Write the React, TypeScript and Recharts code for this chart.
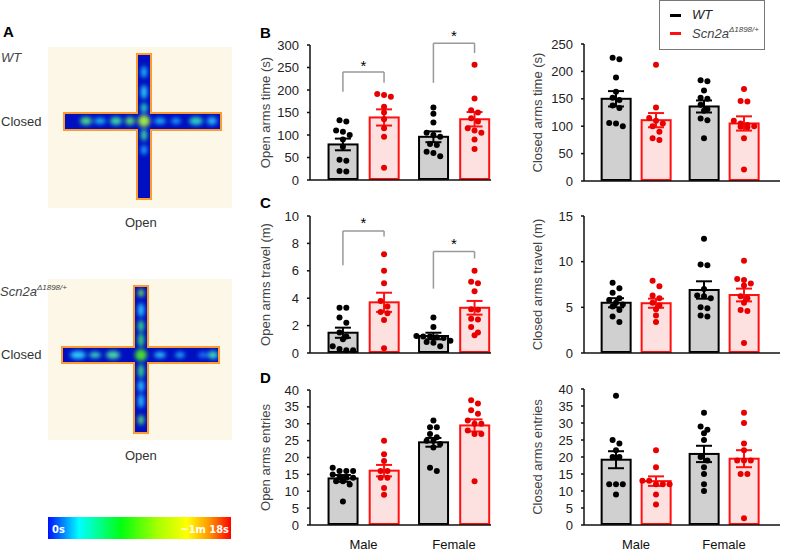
import React from "react";
import { Bar, Cell, ComposedChart, ErrorBar, ReferenceDot, ReferenceLine, Scatter, XAxis, YAxis } from "recharts";

// bar order: Male WT, Male Scn2a, Female WT, Female Scn2a
const GROUPS = ["Male", "Female"];
const BAR_POS = [0.8, 1.8, 3.0, 4.0];
const GROUP_TICKS = [1.3, 3.5];

const openTimeMean = [79, 139, 96, 135];
const openTimeSem = [13, 18, 12, 16];
const openTimePts = [
  [133, 130, 110, 107, 100, 90, 74, 45, 43, 20, 19],
  [191, 189, 185, 163, 150, 135, 115, 96, 27],
  [161, 147, 128, 105, 100, 96, 80, 78, 63, 60, 53],
  [256, 181, 155, 150, 137, 130, 115, 110, 105, 90, 69],
];

const closedTimeMean = [150, 111, 136, 105];
const closedTimeSem = [14, 13, 11, 13];
const closedTimePts = [
  [225, 222, 189, 163, 152, 148, 138, 133, 106, 105, 100],
  [212, 134, 115, 110, 105, 100, 90, 78, 75],
  [184, 182, 165, 152, 150, 139, 131, 128, 114, 111, 78],
  [168, 146, 145, 110, 105, 102, 100, 99, 98, 78, 21],
];

const openTravelMean = [1.48, 3.7, 1.24, 3.3];
const openTravelSem = [0.37, 0.7, 0.24, 0.5];
const openTravelPts = [
  [3.3, 3.3, 2.6, 2.2, 1.5, 1.2, 1.0, 0.5, 0.3, 0.2, 0.2],
  [7.2, 6.0, 5.1, 3.8, 3.4, 3.0, 2.9, 2.4, 0.35],
  [2.6, 1.9, 1.25, 1.2, 1.2, 1.15, 1.1, 0.9, 0.8, 0.75, 0.5],
  [6.0, 5.2, 5.1, 4.5, 3.2, 3.15, 2.5, 2.45, 1.9, 1.5, 1.3],
];

const closedTravelMean = [5.5, 5.45, 6.9, 6.35];
const closedTravelSem = [0.5, 0.5, 0.95, 0.7];
const closedTravelPts = [
  [7.7, 7.1, 6.6, 6.0, 5.8, 5.5, 5.3, 5.1, 4.7, 4.0, 3.4],
  [7.9, 7.3, 6.3, 6.0, 5.5, 5.2, 4.8, 4.1, 3.4],
  [12.5, 9.7, 9.6, 7.0, 6.3, 6.2, 6.0, 5.0, 4.9, 4.1, 4.0],
  [10.1, 8.1, 8.0, 7.6, 7.4, 6.2, 6.0, 5.5, 4.7, 4.6, 1.1],
];

const openEntriesMean = [13.8, 16.1, 24.5, 29.5];
const openEntriesSem = [1.0, 1.7, 1.3, 1.8];
const openEntriesPts = [
  [17, 16, 16, 16, 15, 14, 14, 14, 13, 13, 12, 7],
  [25, 21, 19, 16, 16, 14, 14, 11, 9],
  [31, 29, 29, 27, 26, 25, 25, 24, 23, 17, 16],
  [37, 36, 34, 33, 31, 30, 30, 28, 27, 27, 13],
];

const closedEntriesMean = [19.2, 12.9, 20.9, 19.5];
const closedEntriesSem = [2.5, 1.4, 2.4, 2.5];
const closedEntriesPts = [
  [38, 25, 24, 22, 20, 20, 12, 12, 12, 9],
  [22, 17, 13, 13, 12, 12, 12, 9, 6],
  [33, 29, 28, 27, 25, 20, 19, 17, 15, 12, 10],
  [33, 30, 24, 22, 19, 19, 19, 15, 15, 2],
];

type Bracket = { a: number; b: number; left: number; right: number; top: number; star: number };

const openTimeBrackets: Bracket[] = [
  { a: 0, b: 1, left: 196, right: 216, top: 240, star: 255 },
  { a: 2, b: 3, left: 216, right: 282, top: 304, star: 320 },
];
const openTravelBrackets: Bracket[] = [
  { a: 0, b: 1, left: 6.4, right: 8.5, top: 8.9, star: 9.5 },
  { a: 2, b: 3, left: 4.7, right: 6.9, top: 7.4, star: 7.95 },
];

const WT_FILL = "#d0d0d0";
const WT_LINE = "#000000";
const KO_FILL = "#fde0e0";
const KO_LINE = "#ff1010";
const KO_DOT = "#e80000";
const BAR_W = 31;

const FONT = "'Liberation Sans', Arial, sans-serif";

// simple centered beeswarm: values that sit within a dot of each other share a row
function swarm(values: number[], center: number, pyu: number, pxu: number) {
  const sorted = [...values].sort((a, b) => b - a);
  const rows: number[][] = [];
  let cur: number[] = [];
  let start = 0;
  for (const v of sorted) {
    if (cur.length && (start - v) * pyu < 5.5) cur.push(v);
    else {
      if (cur.length) rows.push(cur);
      cur = [v];
      start = v;
    }
  }
  if (cur.length) rows.push(cur);
  const out: { x: number; y: number }[] = [];
  rows.forEach((row) =>
    row.forEach((v, i) => out.push({ x: center + ((i - (row.length - 1) / 2) * 6.8) / pxu, y: v }))
  );
  return out;
}

// bar drawn at a fixed width round the centre the library computed
const BarShape = (s: any) => {
  const cx = s.x + s.width / 2;
  return (
    <rect x={cx - BAR_W / 2 + 1} y={s.y} width={BAR_W - 2} height={Math.max(0, s.height - 1)} fill={s.fill} stroke={s.stroke} strokeWidth={2} />
  );
};

interface PanelProps {
  left: number;
  top: number;
  width: number;
  height: number;
  mt: number;
  xh: number;
  xMax: number;
  yMax: number;
  yTicks: number[];
  label: string;
  labelOffset: number;
  means: number[];
  sems: number[];
  pts: number[][];
  brackets?: Bracket[];
  showX?: boolean;
}

function Panel(p: PanelProps) {
  const yw = 70;
  const mr = 4;
  const plotW = p.width - yw - mr;
  const plotH = p.height - p.mt - p.xh;
  const pxu = plotW / p.xMax;
  const pyu = plotH / p.yMax;
  const bars = p.means.map((m, i) => ({ x: BAR_POS[i], mean: m }));
  const meanRows = (idx: number[]) => idx.map((i) => ({ x: BAR_POS[i], mean: p.means[i], sem: p.sems[i] }));
  const dots = (idx: number[]) => idx.flatMap((i) => swarm(p.pts[i], BAR_POS[i], pyu, pxu));
  const tick = { fill: "#222", fontSize: 13, fontFamily: FONT };

  return (
    <div style={{ position: "absolute", left: p.left, top: p.top }}>
      <ComposedChart width={p.width} height={p.height} data={bars} margin={{ top: p.mt, right: mr, bottom: 0, left: 0 }}>
        <XAxis
          type="number"
          dataKey="x"
          domain={[0, p.xMax]}
          ticks={GROUP_TICKS}
          tickFormatter={(v: number) => GROUPS[GROUP_TICKS.indexOf(v)] ?? ""}
          tick={p.showX ? { ...tick, fill: "#111" } : false}
          tickLine={false}
          tickMargin={9}
          height={p.xh}
          axisLine={{ stroke: "#111", strokeWidth: 1.5 }}
          allowDataOverflow
        />
        <YAxis
          type="number"
          domain={[0, p.yMax]}
          ticks={p.yTicks}
          tick={tick}
          tickSize={3}
          tickMargin={8}
          width={yw}
          axisLine={{ stroke: "#111", strokeWidth: 1.5 }}
          tickLine={{ stroke: "#111", strokeWidth: 1.5 }}
          interval={0}
          label={{
            value: p.label,
            angle: -90,
            position: "insideLeft",
            offset: p.labelOffset,
            style: { textAnchor: "middle", fill: "#444", fontSize: 13, fontFamily: FONT },
          }}
          allowDataOverflow
        />
        <Bar dataKey="mean" isAnimationActive={false} shape={BarShape}>
          {bars.map((_, i) => (
            <Cell key={i} fill={i % 2 ? KO_FILL : WT_FILL} stroke={i % 2 ? KO_LINE : WT_LINE} />
          ))}
        </Bar>
        <Scatter
          data={dots([0, 2])}
          dataKey="y"
          isAnimationActive={false}
          shape={(s: any) => <circle cx={s.cx} cy={s.cy} r={3} fill="#000" />}
        />
        <Scatter
          data={dots([1, 3])}
          dataKey="y"
          isAnimationActive={false}
          shape={(s: any) => <circle cx={s.cx} cy={s.cy} r={3} fill={KO_DOT} />}
        />
        <Scatter data={meanRows([0, 2])} dataKey="mean" isAnimationActive={false} shape={() => <g />}>
          <ErrorBar dataKey="sem" direction="y" width={8} stroke={WT_LINE} strokeWidth={2} />
        </Scatter>
        <Scatter data={meanRows([1, 3])} dataKey="mean" isAnimationActive={false} shape={() => <g />}>
          <ErrorBar dataKey="sem" direction="y" width={8} stroke={KO_LINE} strokeWidth={2} />
        </Scatter>
        {(p.brackets ?? []).flatMap((b, k) => [
          <ReferenceLine key={`l${k}`} segment={[{ x: BAR_POS[b.a], y: b.left }, { x: BAR_POS[b.a], y: b.top }]} stroke="#999" strokeWidth={1.5} ifOverflow="visible" />,
          <ReferenceLine key={`t${k}`} segment={[{ x: BAR_POS[b.a], y: b.top }, { x: BAR_POS[b.b], y: b.top }]} stroke="#999" strokeWidth={1.5} ifOverflow="visible" />,
          <ReferenceLine key={`r${k}`} segment={[{ x: BAR_POS[b.b], y: b.top }, { x: BAR_POS[b.b], y: b.right }]} stroke="#999" strokeWidth={1.5} ifOverflow="visible" />,
          <ReferenceDot
            key={`s${k}`}
            x={(BAR_POS[b.a] + BAR_POS[b.b]) / 2}
            y={b.star}
            r={1}
            fill="none"
            stroke="none"
            ifOverflow="visible"
            label={{ value: "*", position: "center", fill: "#000", fontSize: 15, fontFamily: FONT }}
          />,
        ])}
      </ComposedChart>
    </div>
  );
}

type Arm = { x: number; y: number; w: number; h: number };
type Blob = [number, number, number, number, string];

function HeatMap({ id, top, vArm, hArm, blobs }: { id: string; top: number; vArm: Arm; hArm: Arm; blobs: Blob[] }) {
  return (
    <g>
      <rect x={48} y={top} width={184} height={161} fill="#fdf7e8" />
      <defs>
        <clipPath id={`c${id}`}>
          <rect x={vArm.x} y={vArm.y} width={vArm.w} height={vArm.h} />
          <rect x={hArm.x} y={hArm.y} width={hArm.w} height={hArm.h} />
        </clipPath>
        <filter id={`b${id}`} x="-50%" y="-50%" width="200%" height="200%">
          <feGaussianBlur stdDeviation={2.2} />
        </filter>
      </defs>
      {[vArm, hArm].map((a, i) => (
        <rect key={i} x={a.x - 1} y={a.y - 1} width={a.w + 2} height={a.h + 2} fill="none" stroke="#ff9a30" strokeWidth={2} />
      ))}
      <g clipPath={`url(#c${id})`}>
        <rect x={vArm.x} y={vArm.y} width={vArm.w} height={vArm.h} fill="#0010c0" />
        <rect x={hArm.x} y={hArm.y} width={hArm.w} height={hArm.h} fill="#0010c0" />
        <g filter={`url(#b${id})`} opacity={0.9}>
          {blobs.map(([cx, cy, rx, ry, c], i) => (
            <ellipse key={i} cx={cx} cy={cy} rx={rx} ry={ry} fill={c} />
          ))}
        </g>
      </g>
    </g>
  );
}

const wtBlobs: Blob[] = [
  [144, 72, 3, 6, "#20c8ff"], [144, 92, 3, 7, "#30e8ff"], [144, 108, 3, 5, "#30f0c0"],
  [144, 121, 6, 6, "#b0ff30"], [144, 135, 3, 6, "#40f0a0"], [144, 150, 3, 5, "#20b0ff"],
  [86, 121, 6, 4, "#50f080"], [100, 121, 6, 3, "#20d0f0"], [116, 121, 6, 4, "#40f0a0"],
  [130, 121, 5, 4, "#60f070"], [160, 121, 6, 3, "#20c8ff"], [176, 121, 5, 3, "#20b0ff"],
  [196, 121, 7, 4, "#30e8c0"], [212, 121, 5, 4, "#30c8ff"],
];
const koBlobs: Blob[] = [
  [141, 293, 3, 4, "#80f050"], [141, 310, 3, 7, "#30e0ff"], [141, 326, 3, 6, "#40f080"],
  [141, 340, 3, 7, "#40f070"], [141, 355, 6, 6, "#50f020"], [141, 371, 3, 7, "#40f080"],
  [141, 386, 3, 6, "#30d8ff"], [141, 401, 3, 7, "#30d0ff"], [141, 420, 3, 5, "#60f070"],
  [78, 355, 8, 4, "#30e0ff"], [95, 355, 6, 3, "#40f0c0"], [113, 355, 7, 4, "#50f0a0"],
  [160, 355, 6, 3, "#30d8ff"], [180, 355, 5, 3, "#20b8ff"], [203, 355, 5, 3, "#2080ff"],
  [213, 355, 5, 4, "#40f0c0"],
];

const label = (x: number, y: number, text: string, extra: React.CSSProperties = {}) => (
  <div style={{ position: "absolute", left: x, top: y, fontSize: 13, color: "#333", lineHeight: "15px", whiteSpace: "nowrap", ...extra }}>
    {text}
  </div>
);

export default function App() {
  const letter: React.CSSProperties = { fontWeight: 700, fontSize: 15, color: "#000" };
  return (
    <div style={{ position: "fixed", left: 0, top: 0, width: 788, height: 556, background: "#fff", fontFamily: FONT, overflow: "hidden" }}>
      <svg width={788} height={556} style={{ position: "absolute", left: 0, top: 0 }}>
        <defs>
          <linearGradient id="cbar" x1="0" x2="1" y1="0" y2="0">
            <stop offset="0" stopColor="#0010ff" />
            <stop offset="0.17" stopColor="#00ffff" />
            <stop offset="0.4" stopColor="#00ff10" />
            <stop offset="0.6" stopColor="#a8ff00" />
            <stop offset="0.76" stopColor="#ffff00" />
            <stop offset="0.88" stopColor="#ff9900" />
            <stop offset="1" stopColor="#ff0000" />
          </linearGradient>
        </defs>
        <HeatMap id="wt" top={47} vArm={{ x: 138, y: 55, w: 12, h: 143 }} hArm={{ x: 65, y: 114, w: 155, h: 15 }} blobs={wtBlobs} />
        <HeatMap id="ko" top={279} vArm={{ x: 135, y: 287, w: 12, h: 145 }} hArm={{ x: 63, y: 348, w: 155, h: 14 }} blobs={koBlobs} />
        <rect x={48} y={517} width={183} height={22} fill="url(#cbar)" />
        <text x={52} y={533} fill="#fff" fontSize={11} fontWeight={700} fontFamily="'DejaVu Sans Condensed', 'DejaVu Sans', sans-serif">0s</text>
        <text x={229} y={533} fill="#fff" fontSize={11} fontWeight={700} textAnchor="end" fontFamily="'DejaVu Sans Condensed', 'DejaVu Sans', sans-serif">~1m 18s</text>
      </svg>

      {label(3, 24, "A", letter)}
      {label(1, 50, "WT", { fontStyle: "italic", color: "#444" })}
      {label(1, 114, "Closed")}
      {label(125, 215, "Open")}
      <div style={{ position: "absolute", left: 0, top: 280, fontSize: 13, fontStyle: "italic", color: "#444", whiteSpace: "nowrap", lineHeight: "15px" }}>
        Scn2a<sup style={{ fontSize: 8, verticalAlign: "6px" }}>Δ1898/+</sup>
      </div>
      {label(1, 347, "Closed")}
      {label(125, 448, "Open")}

      {label(260, 25, "B", letter)}
      {label(260, 195, "C", letter)}
      {label(260, 370, "D", letter)}

      <Panel left={240} top={15} width={255} height={177} mt={30} xh={12} xMax={4.4} yMax={300} yTicks={[0, 50, 100, 150, 200, 250, 300]}
        label="Open arms time (s)" labelOffset={25} means={openTimeMean} sems={openTimeSem} pts={openTimePts} brackets={openTimeBrackets} />
      <Panel left={514} top={14} width={270} height={179} mt={30} xh={12} xMax={4.9} yMax={250} yTicks={[0, 50, 100, 150, 200, 250]}
        label="Closed arms time (s)" labelOffset={23} means={closedTimeMean} sems={closedTimeSem} pts={closedTimePts} />
      <Panel left={240} top={186} width={255} height={179} mt={30} xh={12} xMax={4.4} yMax={10} yTicks={[0, 2, 4, 6, 8, 10]}
        label="Open arms travel (m)" labelOffset={25} means={openTravelMean} sems={openTravelSem} pts={openTravelPts} brackets={openTravelBrackets} />
      <Panel left={514} top={186} width={270} height={179} mt={30} xh={12} xMax={4.9} yMax={15} yTicks={[0, 5, 10, 15]}
        label="Closed arms travel (m)" labelOffset={23} means={closedTravelMean} sems={closedTravelSem} pts={closedTravelPts} />
      <Panel left={240} top={375} width={255} height={180} mt={15} xh={30} xMax={4.4} yMax={40} yTicks={[0, 5, 10, 15, 20, 25, 30, 35, 40]}
        label="Open arms entries" labelOffset={25} means={openEntriesMean} sems={openEntriesSem} pts={openEntriesPts} showX />
      <Panel left={514} top={374} width={270} height={181} mt={15} xh={30} xMax={4.9} yMax={40} yTicks={[0, 5, 10, 15, 20, 25, 30, 35, 40]}
        label="Closed arms entries" labelOffset={23} means={closedEntriesMean} sems={closedEntriesSem} pts={closedEntriesPts} showX />

      <div style={{ position: "absolute", left: 659, top: 0, width: 104, height: 48, border: "1px solid #777", background: "#fff" }}>
        <div style={{ position: "absolute", left: 10, top: 13, width: 11, height: 3, background: "#000" }} />
        <div style={{ position: "absolute", left: 32, top: 6, fontSize: 13, fontStyle: "italic", color: "#222" }}>WT</div>
        <div style={{ position: "absolute", left: 10, top: 31, width: 11, height: 3, background: KO_LINE }} />
        <div style={{ position: "absolute", left: 32, top: 24, fontSize: 13, fontStyle: "italic", color: "#444", whiteSpace: "nowrap" }}>
          Scn2a<sup style={{ fontSize: 8, verticalAlign: "6px" }}>Δ1898/+</sup>
        </div>
      </div>
    </div>
  );
}
